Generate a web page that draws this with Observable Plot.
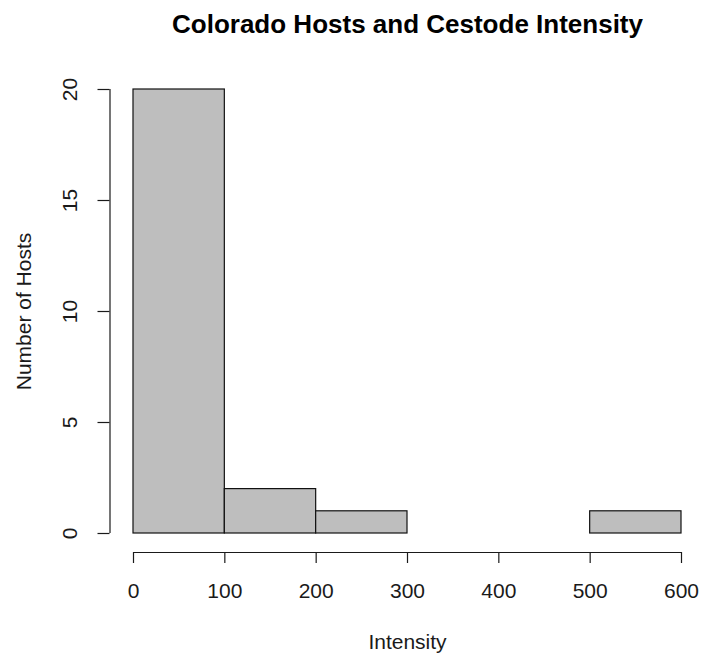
<!DOCTYPE html>
<html>
<head>
<meta charset="utf-8">
<script src="https://cdn.jsdelivr.net/npm/d3@7"></script>
<script src="https://cdn.jsdelivr.net/npm/@observablehq/plot@0.6"></script>
<style>
  html, body { margin: 0; padding: 0; background: #fff; }
  svg { display: block; }
</style>
</head>
<body>
<div id="chart"></div>
<script>
const binStarts = [0, 100, 200, 300, 400, 500];
const binEnds   = [100, 200, 300, 400, 500, 600];
const counts    = [20, 2, 1, 0, 0, 1];
const xTicks = [0, 100, 200, 300, 400, 500, 600];
const yTicks = [0, 5, 10, 15, 20];
const title = "Colorado Hosts and Cestode Intensity";
const xLabel = "Intensity";
const yLabel = "Number of Hosts";

const bins = binStarts.map((s, i) => ({x1: s, x2: binEnds[i], n: counts[i]}));
const font = "'Liberation Sans', Arial, sans-serif";
const ink = "#1a1a1a";
const txt = {textAnchor: "middle", lineAnchor: "middle"};

const chart = Plot.plot({
  width: 702,
  height: 660,
  marginLeft: 133,
  marginRight: 21,
  marginTop: 89,
  marginBottom: 127,
  style: {fontFamily: font, background: "white", color: ink},
  x: {domain: [d3.min(xTicks), d3.max(xTicks)], axis: null},
  y: {domain: [d3.min(yTicks), d3.max(yTicks)], axis: null},
  marks: [
    Plot.rectY(bins, {x1: "x1", x2: "x2", y: "n", fill: "#bebebe", stroke: "#111", strokeWidth: 1.2}),
    // x axis
    Plot.ruleY([0], {x1: d3.min(xTicks), x2: d3.max(xTicks), dy: 19, stroke: ink, strokeWidth: 1.2}),
    Plot.axisX(xTicks, {tickSize: 11, dy: 19, fill: "none", stroke: ink, strokeWidth: 1.2, label: null}),
    Plot.text(xTicks, {x: d => d, frameAnchor: "bottom", dy: 58, text: d => String(d), fontSize: 21, fill: ink, ...txt}),
    Plot.text([xLabel], {frameAnchor: "bottom", dy: 109, text: d => d, fontSize: 21, fill: ink, ...txt}),
    // y axis
    Plot.ruleX([0], {y1: d3.min(yTicks), y2: d3.max(yTicks), dx: -23.5, stroke: ink, strokeWidth: 1.2}),
    Plot.axisY(yTicks, {tickSize: 12, dx: -23.5, fill: "none", stroke: ink, strokeWidth: 1.2, label: null}),
    Plot.text(yTicks, {y: d => d, frameAnchor: "left", dx: -63, rotate: -90, text: d => String(d), fontSize: 21, fill: ink, ...txt}),
    Plot.text([yLabel], {frameAnchor: "left", dx: -109, rotate: -90, text: d => d, fontSize: 21, fill: ink, ...txt}),
    // title
    Plot.text([title], {frameAnchor: "top", dy: -65, text: d => d, fontSize: 26, fontWeight: "bold", fill: "#000", ...txt})
  ]
});
document.getElementById("chart").appendChild(chart);
</script>
</body>
</html>
